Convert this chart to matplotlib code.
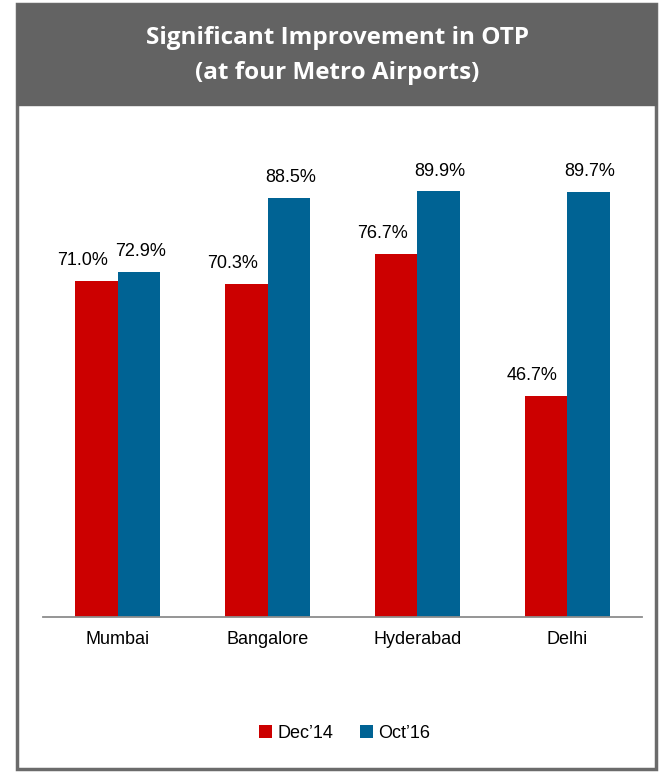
import matplotlib.pyplot as plt
from matplotlib.patches import Rectangle, Patch

cities = ['Mumbai', 'Bangalore', 'Hyderabad', 'Delhi']
dec14 = [71.0, 70.3, 76.7, 46.7]
oct16 = [72.9, 88.5, 89.9, 89.7]
series_names = ['Dec\u201914', 'Oct\u201916']
colors = ['#CC0000', '#006394']

plt.rcParams['font.family'] = ['Liberation Sans', 'DejaVu Sans']

fig = plt.figure(figsize=(6.65, 7.72), dpi=100)
W, H = 665, 772

# frame and header band (behind the axes)
fig.patches.append(Rectangle((17 / W, 1 - 769 / H), 639 / W, 765 / H, transform=fig.transFigure,
                             facecolor='white', edgecolor='#6b6b6b', linewidth=2.5, zorder=-2))
fig.patches.append(Rectangle((17 / W, 1 - 105 / H), 639 / W, 101 / H, transform=fig.transFigure,
                             facecolor='#636363', edgecolor='#636363', linewidth=1, zorder=-1))
fig.text(337 / W, 1 - 38 / H, 'Significant Improvement in OTP', color='white', fontsize=17.5,
         fontweight='bold', family=['Open Sans', 'DejaVu Sans'], ha='center', va='center')
fig.text(337 / W, 1 - 73 / H, '(at four Metro Airports)', color='white', fontsize=17.5,
         fontweight='bold', family=['Open Sans', 'DejaVu Sans'], ha='center', va='center')

# plot area
ax = fig.add_axes([43 / W, 1 - 617 / H, 599 / W, 497 / H])
x = range(len(cities))
w = 0.284
b1 = ax.bar([i - w / 2 for i in x], dec14, w, color=colors[0])
b2 = ax.bar([i + w / 2 for i in x], oct16, w, color=colors[1])
ax.set_xlim(-0.5, 3.5)
ax.set_ylim(0, 105)

for bar, v in zip(b1, dec14):
    ax.annotate(f'{v:.1f}%', (bar.get_x() + bar.get_width() / 2, v), xytext=(-10, 11.5),
                textcoords='offset points', ha='center', va='baseline', fontsize=13)
for bar, v in zip(b2, oct16):
    ax.annotate(f'{v:.1f}%', (bar.get_x() + bar.get_width() / 2, v), xytext=(1, 11.5),
                textcoords='offset points', ha='center', va='baseline', fontsize=13)

for s in ['top', 'left', 'right']:
    ax.spines[s].set_visible(False)
ax.spines['bottom'].set_color('#8c8c8c')
ax.spines['bottom'].set_linewidth(1.3)
ax.set_yticks([])
ax.set_xticks(list(x))
ax.set_xticklabels(cities, fontsize=13)
ax.tick_params(axis='x', length=0, pad=10)
ax.patch.set_visible(False)

handles = [Patch(facecolor=c, edgecolor='none') for c in colors]
fig.legend(handles, series_names, loc='center', bbox_to_anchor=(345 / W, 1 - 733 / H), ncol=2,
           frameon=False, fontsize=13, handlelength=0.7, handleheight=0.7, handletextpad=0.3,
           columnspacing=1.5)

fig.savefig('out.png', dpi=100)
